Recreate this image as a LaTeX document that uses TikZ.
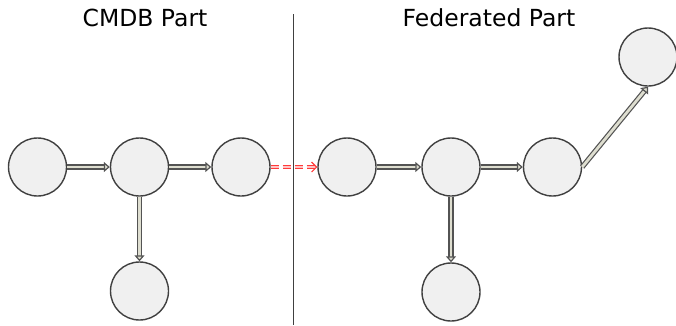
\documentclass[tikz,border=0pt]{standalone}
\usepackage{fontspec}
\setmainfont{DejaVu Sans}
\usetikzlibrary{arrows.meta}

\definecolor{relleno}{HTML}{F0F0F0}
\definecolor{borde}{HTML}{404040}
\definecolor{cuerpo}{HTML}{DEDED0}
\definecolor{rojo}{HTML}{FF3B3B}
\definecolor{rosa}{HTML}{FFC4C4}

\tikzset{
  circ/.style={circle, draw=borde, fill=relleno, line width=1.4pt, minimum size=58pt, inner sep=0pt},
  flecha/.style={draw=borde!90, line width=1.2pt, double=cuerpo, double distance=2.8pt,
    -{Triangle[open, length=6pt, width=10pt, fill=cuerpo]}},
  fed/.style={draw=rojo, line width=1.1pt, double=rosa, double distance=2.4pt, dash pattern=on 8pt off 4pt,
    -{Straight Barb[length=5pt, width=10pt]}},
  tit/.style={font=\fontsize{23.5}{28}\selectfont}
}

\begin{document}
\begin{tikzpicture}[x=1pt, y=-1pt]
  \useasboundingbox (0,0) rectangle (676,325);

  \node[tit] (tcmdb) at (145,17.5) {CMDB Part};
  \node[tit] (tfed)  at (489,17.5) {Federated Part};
  \draw[borde, line width=1pt] (293,14) coordinate (sa) -- (293,325) coordinate (sb);

  % CMDB
  \node[circ] (a1) at (37.5,167)  {};
  \node[circ] (a2) at (139.5,167) {};
  \node[circ] (a3) at (241,167)   {};
  \node[circ] (a4) at (139.5,291) {};

  % federado
  \node[circ] (b1) at (347,167)   {};
  \node[circ] (b2) at (451,167)   {};
  \node[circ] (b3) at (552.5,167) {};
  \node[circ] (b4) at (451,292)   {};
  \node[circ] (b5) at (648,57)    {};

  \draw[flecha] (a1) -- (a2);
  \draw[flecha] (a2) -- (a3);
  \draw[flecha] (a2) -- (a4);
  \draw[fed] (a3) -- (b1);
  \draw[flecha] (b1) -- (b2);
  \draw[flecha] (b2) -- (b3);
  \draw[flecha] (b2) -- (b4);
  \draw[flecha] (b3.east) -- (b5.south);
\end{tikzpicture}
\end{document}
